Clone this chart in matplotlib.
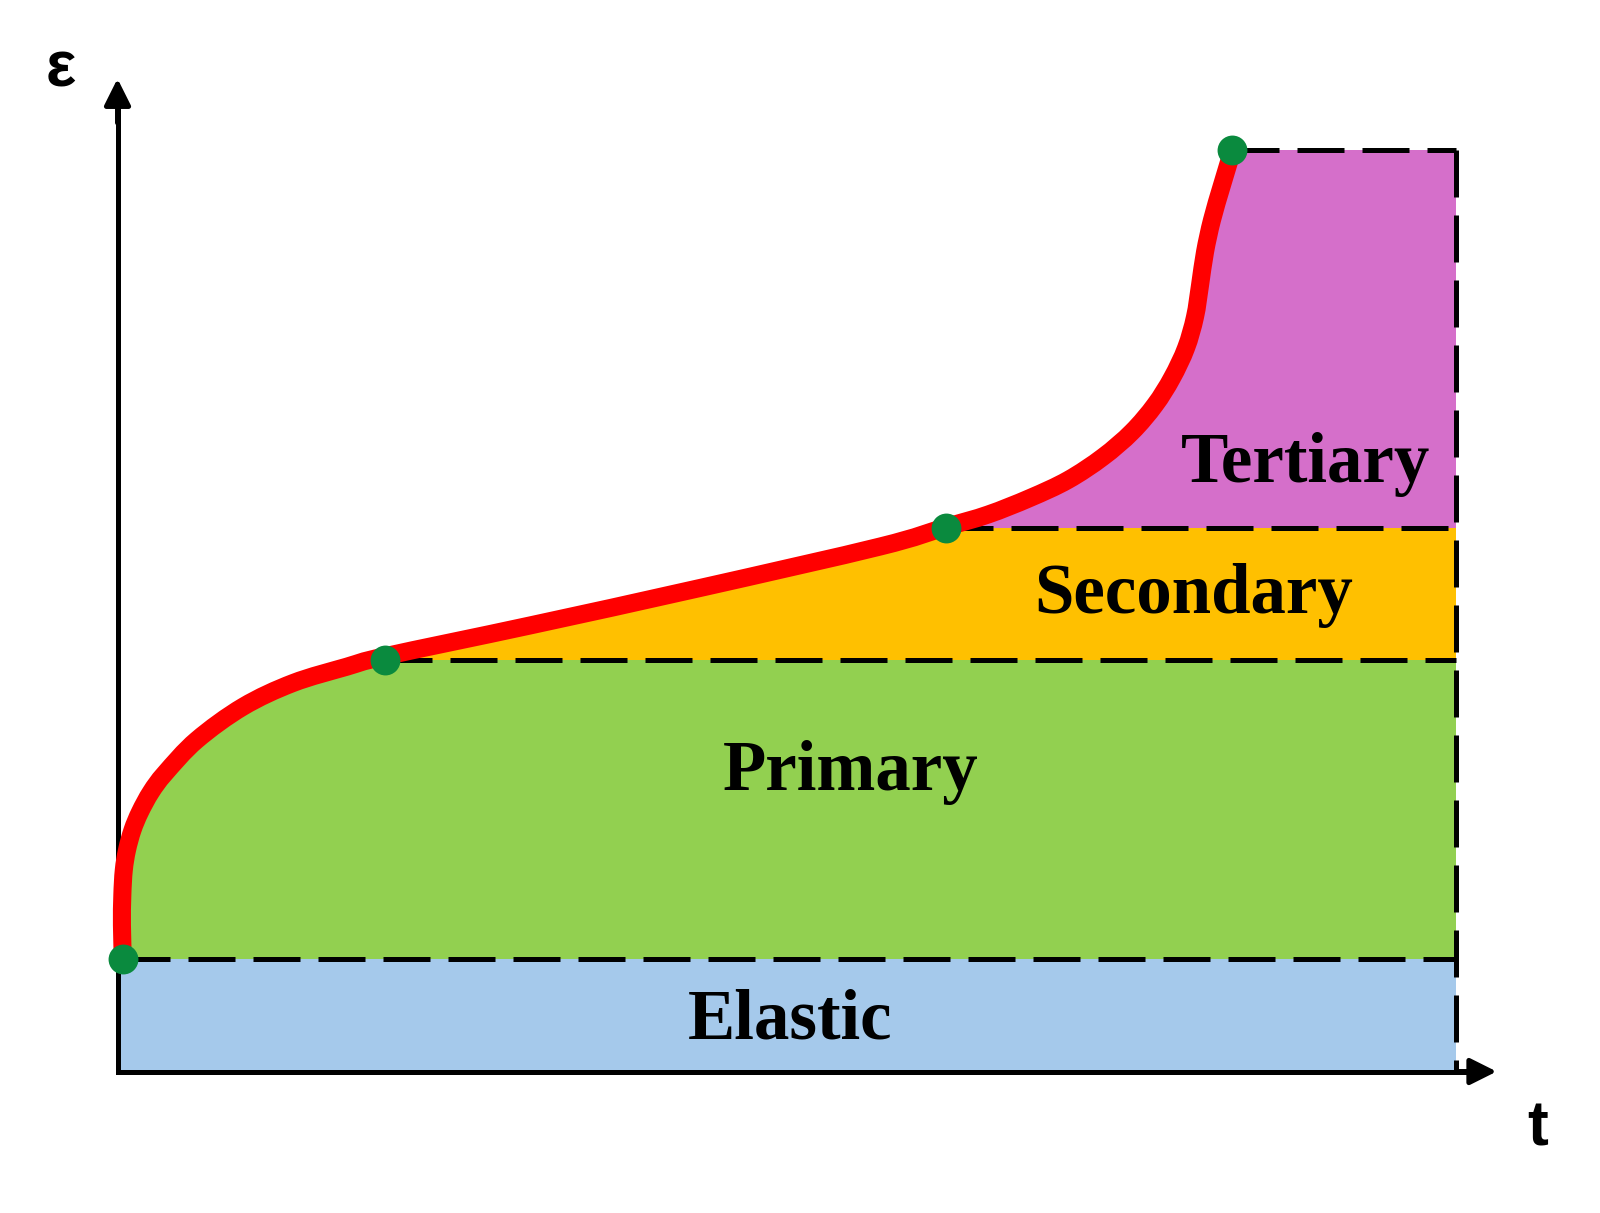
import numpy as np
import matplotlib
matplotlib.use('Agg')
from matplotlib import pyplot as plt
from matplotlib.patches import Rectangle, PathPatch
from matplotlib.path import Path

# creep curve (t, strain in arbitrary units)
curve_t = [0.04, 0.033, 0.036, 0.047, 0.071, 0.112, 0.168, 0.250, 0.355,
           0.592, 0.938, 1.311, 1.712, 2.006, 3.082, 4.352, 5.697, 6.190,
           6.503, 6.817, 7.101, 7.362, 7.579, 7.751, 7.878, 7.983, 8.050,
           8.088, 8.125, 8.177, 8.252, 8.33]
curve_eps = [1.22, 1.590, 1.916, 2.188, 2.405, 2.622, 2.818, 3.035, 3.238,
             3.599, 3.961, 4.218, 4.395, 4.511, 4.843, 5.250, 5.700, 5.912,
             6.047, 6.227, 6.422, 6.672, 6.944, 7.237, 7.530, 7.855, 8.192,
             8.540, 8.898, 9.245, 9.625, 10.0]

# stage transition points (green dots)
trans_t = [0.04, 2.00, 6.19, 8.33]
trans_eps = [1.22, 4.47, 5.90, 10.0]

# stage bands
stages = ['Elastic', 'Primary', 'Secondary', 'Tertiary']
band_lo = [0.0, 1.22, 4.47, 5.90]
band_hi = [1.22, 4.47, 5.90, 10.0]
band_colors = ['#a5c9eb', '#92d050', '#ffc000', '#d56fca']
label_t = [5.024, 5.480, 8.043, 8.879]
label_eps = [0.36, 3.056, 4.98, 6.404]
t_end = 10.0


def smooth_path(xs, ys):
    # Catmull-Rom through the read points, drawn as cubic Bezier segments
    p = np.column_stack([xs, ys])
    pp = np.vstack([p[0], p, p[-1]])
    verts = [p[0]]
    codes = [Path.MOVETO]
    for i in range(1, len(pp) - 2):
        p0, p1, p2, p3 = pp[i - 1], pp[i], pp[i + 1], pp[i + 2]
        verts += [p1 + (p2 - p0) / 6, p2 - (p3 - p1) / 6, p2]
        codes += [Path.CURVE4] * 3
    return verts, codes


fig = plt.figure(figsize=(16, 12.13), dpi=100)
ax = fig.add_axes([0, 0, 1, 1])
ax.set_xlim(-0.878, 11.076)
ax.set_ylim(-1.536, 11.634)
ax.axis('off')

# coloured bands
for lo, hi, c in zip(band_lo, band_hi, band_colors):
    ax.add_patch(Rectangle((0, lo), t_end, hi - lo, facecolor=c,
                           edgecolor='none', zorder=1))

verts, codes = smooth_path(curve_t, curve_eps)

# blank out everything left of the curve
mverts = verts + [(8.45, 10.0), (8.45, 10.2), (-0.5, 10.2), (-0.5, 1.22), (0, 0)]
mcodes = codes + [Path.LINETO] * 4 + [Path.CLOSEPOLY]
ax.add_patch(PathPatch(Path(mverts, mcodes), facecolor='white',
                       edgecolor='none', zorder=2))

# dashed stage boundaries
dash = (0, (9.4, 3.6))
for t0, e0 in zip(trans_t, trans_eps):
    ax.plot([t0, t_end], [e0, e0], color='black', lw=3.6, ls=dash, zorder=3)
ax.plot([t_end, t_end], [10.0, 0], color='black', lw=3.6, ls=dash, zorder=3)

# axes with arrows
ax.plot([0, 0, 10.1], [10.55, 0, 0], color='black', lw=3.6,
        solid_joinstyle='miter', zorder=4)
arrow = dict(arrowstyle='-|>,head_length=0.8,head_width=0.4',
             mutation_scale=20, color='black', lw=3.6,
             shrinkA=0, shrinkB=0)
ax.annotate('', xy=(0, 10.78), xytext=(0, 10.3), arrowprops=arrow, zorder=4)
ax.annotate('', xy=(10.304, 0), xytext=(10.0, 0), arrowprops=arrow, zorder=4)

ax.text(-0.422, 10.879, 'ε', fontsize=46, fontweight='bold',
        family=['Liberation Sans', 'DejaVu Sans'], ha='center', va='center')
ax.text(10.609, -0.624, 't', fontsize=45, fontweight='bold',
        family='Liberation Sans', ha='center', va='center')

# creep curve and transitions
ax.add_patch(PathPatch(Path(verts, codes), facecolor='none',
                       edgecolor='#ff0000', lw=13, capstyle='round',
                       joinstyle='round', zorder=5))
ax.plot(trans_t, trans_eps, 'o', color='#0a8a3e', ms=21.5, mec='none',
        zorder=6)

for name, x, y in zip(stages, label_t, label_eps):
    ax.text(x, y, name, fontsize=51, fontweight='bold',
            family='Liberation Serif', ha='center', va='baseline', zorder=7)

plt.savefig('out.png', dpi=100)
